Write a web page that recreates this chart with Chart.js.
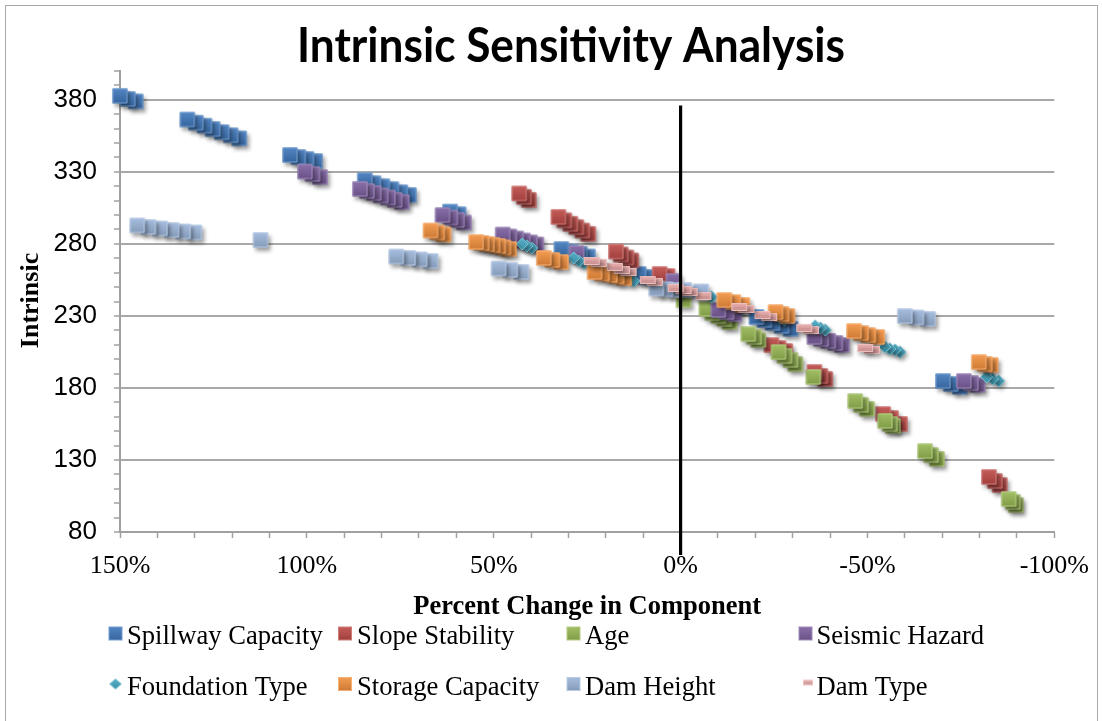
<!DOCTYPE html>
<html>
<head>
<meta charset="utf-8">
<script src="https://cdn.jsdelivr.net/npm/chart.js@4.4.1/dist/chart.umd.min.js"></script>
<style>
html,body{margin:0;padding:0;background:#fff;}
#wrap{position:relative;width:1102px;height:721px;}
</style>
</head>
<body>
<div id="wrap"><canvas id="c" width="1102" height="721"></canvas></div>
<script>
// ---------------- DATA ----------------
const chartTitle = 'Intrinsic Sensitivity Analysis';
const xAxisTitle = 'Percent Change in Component';
const yAxisTitle = 'Intrinsic';
const seriesNames = ['Spillway Capacity','Slope Stability','Age','Seismic Hazard','Foundation Type','Storage Capacity','Dam Height','Dam Type'];
const xTickValues = [150, 100, 50, 0, -50, -100];
const yTickValues = [80, 130, 180, 230, 280, 330, 380];

const spillwayX = [150, 147.9, 145.8, 132.0, 129.7, 127.4, 125.2, 122.8, 120.4, 118.1, 104.5, 102.3, 100.1, 97.8, 84.5, 82.2, 79.8, 77.4, 75.0, 72.7, 61.7, 59.4, 31.9, 29.4, 27.0, 24.8, 11.2, 9.3, -20.3, -22.4, -24.6, -27.0, -29.4, -70.2, -72.3, -74.7];
const spillwayY = [382.7, 380.6, 378.9, 366.3, 364.1, 362.0, 359.7, 357.5, 355.4, 353.2, 341.7, 340.3, 338.9, 337.5, 324.3, 322.1, 320.0, 318.0, 315.8, 313.9, 302.4, 300.6, 276.4, 274.7, 273.0, 271.2, 259.1, 257.0, 229.2, 227.2, 225.1, 223.0, 221.0, 184.8, 182.7, 180.7];

const slopeX = [43.2, 41.9, 40.6, 32.7, 31.1, 29.5, 27.9, 26.3, 24.7, 17.3, 16.0, 14.5, 13.2, 5.6, 3.5, -24.3, -26.2, -28.0, -35.8, -37.4, -38.7, -54.2, -56.3, -58.7, -82.5, -84.1, -85.4];
const slopeY = [315.0, 312.6, 310.5, 298.7, 296.3, 293.9, 291.6, 289.2, 286.9, 274.7, 272.6, 270.5, 268.5, 259.1, 257.7, 209.8, 207.7, 205.6, 191.1, 188.3, 186.2, 161.9, 159.1, 155.0, 118.2, 115.4, 112.6];

const ageX = [-0.8, -6.9, -8.5, -10.1, -11.7, -13.1, -18.1, -19.7, -20.8, -26.2, -27.8, -29.4, -30.7, -35.5, -46.7, -48.3, -49.9, -54.7, -56.0, -56.8, -65.4, -67.0, -68.6, -87.8, -88.9, -89.7];
const ageY = [241.0, 234.8, 232.0, 229.9, 227.9, 225.8, 217.4, 215.4, 213.3, 204.9, 202.2, 199.4, 196.6, 187.6, 170.9, 168.2, 165.4, 157.1, 155.0, 153.6, 136.2, 133.4, 130.7, 102.9, 100.8, 98.7];

const seismicX = [100.5, 98.5, 96.5, 85.8, 83.9, 82.1, 80.2, 78.3, 76.5, 74.6, 63.7, 61.6, 59.8, 58.0, 47.6, 45.8, 44.0, 42.2, 40.3, 38.6, 27.8, 1.9, -10.1, -12.3, -14.4, -35.8, -37.6, -39.5, -41.4, -43.2, -75.8, -77.7, -79.5];
const seismicY = [330.2, 328.5, 326.4, 318.1, 316.7, 315.3, 313.6, 312.2, 310.5, 309.0, 300.0, 298.3, 296.6, 294.8, 286.5, 285.1, 283.7, 282.3, 281.0, 279.6, 273.7, 254.2, 234.1, 232.7, 231.3, 215.4, 214.0, 212.6, 211.2, 209.8, 184.8, 183.4, 182.0];

const foundationX = [42.4, 41.1, 39.8, 28.6, 27.2, 25.9, 12.5, -8.3, -26.7, -27.8, -36.0, -37.4, -38.7, -54.7, -56.0, -57.4, -58.7, -81.9, -83.5, -85.1];
const foundationY = [279.9, 278.5, 277.1, 270.2, 268.1, 266.7, 254.2, 243.1, 228.5, 227.1, 223.0, 221.6, 220.2, 208.4, 207.0, 206.3, 204.9, 187.6, 186.2, 184.8];

const storageX = [66.9, 65.1, 63.4, 54.7, 53.2, 51.8, 50.3, 48.8, 47.4, 45.9, 36.6, 34.3, 32.0, 23.0, 21.0, 18.9, 17.1, 15.1, -11.7, -14.1, -16.5, -25.4, -27.0, -28.6, -46.4, -48.3, -50.2, -52.6, -79.8, -81.4, -83.0];
const storageY = [289.3, 287.9, 286.5, 281.3, 280.6, 279.9, 279.2, 278.5, 277.5, 276.4, 270.2, 268.8, 267.4, 260.5, 259.4, 258.4, 257.4, 256.3, 241.0, 239.6, 237.6, 232.7, 231.3, 229.9, 219.5, 218.1, 216.7, 215.4, 198.0, 196.6, 195.9];

const heightX = [145.4, 142.4, 139.3, 136.2, 133.1, 130.1, 112.4, 76.1, 72.9, 69.8, 66.9, 48.7, 45.6, 42.6, 6.5, 4.0, 1.5, -1.0, -5.5, -60.0, -63.1, -66.2];
const heightY = [292.8, 291.7, 290.7, 289.6, 288.6, 287.9, 282.7, 271.2, 270.2, 269.2, 268.1, 262.9, 261.9, 260.5, 249.0, 248.5, 248.0, 248.0, 247.0, 229.9, 228.9, 227.9];

const typeX = [23.8, 21.9, 17.6, 15.7, 13.9, 8.8, 6.9, 1.3, -0.8, -2.4, -6.1, -15.7, -17.6, -21.9, -23.7, -33.1, -34.9, -49.4, -51.2];
const typeY = [268.1, 266.7, 264.0, 261.9, 260.5, 254.9, 253.6, 249.4, 248.0, 246.6, 243.8, 236.2, 234.8, 230.6, 229.2, 221.6, 220.2, 207.7, 206.3];

const zeroLineX = [0, 0];
const zeroLineY = [376, 64];

// ---------------- STYLE ----------------
const seriesColors = ['#4078BC','#BE4B48','#98B954','#7D60A0','#46AAC4','#F4913F','#9DB7DB','#E9A8A7'];
const seriesShapes = ['rect','rect','rect','rect','diamond','rect','rect','dash'];
const seriesX = [spillwayX, slopeX, ageX, seismicX, foundationX, storageX, heightX, typeX];
const seriesY = [spillwayY, slopeY, ageY, seismicY, foundationY, storageY, heightY, typeY];

function shade(hex, amt){
  const n = parseInt(hex.slice(1),16);
  const r = n>>16, g = (n>>8)&255, b = n&255;
  const f = c => Math.round(amt < 0 ? c*(1+amt) : c + (255-c)*amt);
  return 'rgb(' + f(r) + ',' + f(g) + ',' + f(b) + ')';
}
function shapePath(c, shape, cx, cy, w, h){
  c.beginPath();
  if (shape === 'diamond'){
    c.moveTo(cx, cy-h/2); c.lineTo(cx+w/2, cy); c.lineTo(cx, cy+h/2); c.lineTo(cx-w/2, cy); c.closePath();
  } else {
    c.rect(cx-w/2, cy-h/2, w, h);
  }
}
function makeMarker(shape, color, shadow, w, h){
  const S = 30;
  const cv = document.createElement('canvas');
  cv.width = S; cv.height = S;
  const c = cv.getContext('2d');
  const cx = S/2, cy = S/2;
  c.save();
  if (shadow){
    c.shadowColor = 'rgba(0,0,0,0.38)';
    c.shadowBlur = 4; c.shadowOffsetX = 2; c.shadowOffsetY = 3;
  }
  shapePath(c, shape, cx, cy, w, h);
  const g = c.createLinearGradient(0, cy-h/2, 0, cy+h/2);
  g.addColorStop(0, shade(color, 0.10));
  g.addColorStop(1, shade(color, -0.16));
  c.fillStyle = g; c.fill();
  c.restore();
  shapePath(c, shape, cx, cy, w-1, h-1);
  c.strokeStyle = shade(color, 0.28); c.lineWidth = 1; c.stroke();
  if (shape === 'dash'){
    c.beginPath(); c.moveTo(cx-w/2+3, cy+0.5); c.lineTo(cx+w/2-3, cy+0.5);
    c.strokeStyle = shade(color, -0.12); c.lineWidth = 1; c.stroke();
  }
  return cv;
}
function markerSize(shape){
  if (shape === 'diamond') return [13, 13];
  if (shape === 'dash') return [16, 8];
  return [15, 15];
}

const datasets = seriesNames.map((name, i) => {
  const [w, h] = markerSize(seriesShapes[i]);
  const img = makeMarker(seriesShapes[i], seriesColors[i], true, w, h);
  return {
    label: name,
    data: seriesX[i].map((x, k) => ({x: x, y: seriesY[i][k]})).reverse(),
    pointStyle: img,
    pointRadius: 8,
    pointHoverRadius: 8,
    showLine: false,
    clip: false,
    order: 10 - i
  };
});
datasets.push({
  label: 'zero',
  data: zeroLineX.map((x, k) => ({x: x, y: zeroLineY[k]})),
  showLine: true,
  borderColor: '#000',
  borderWidth: 3.2,
  pointRadius: 0,
  clip: false,
  order: 0
});

const decor = {
  id: 'decor',
  afterDraw(chart){
    const ctx = chart.ctx;
    ctx.save();
    ctx.strokeStyle = '#A8A8A8'; ctx.lineWidth = 1;
    ctx.strokeRect(5.5, 5.5, 1092, 740);
    ctx.fillStyle = '#000';
    ctx.font = 'bold 47px Lato';
    ctx.textAlign = 'center'; ctx.textBaseline = 'alphabetic';
    const tw = ctx.measureText(chartTitle).width;
    const sx = Math.min(1.1, 548 / tw);
    ctx.save(); ctx.translate(571, 62); ctx.scale(sx, 1); ctx.fillText(chartTitle, 0, 0); ctx.restore();
    const ca = chart.chartArea;
    ctx.font = 'bold 26.5px "Liberation Serif"';
    ctx.fillText(xAxisTitle, (ca.left + ca.right) / 2, 614);
    ctx.save(); ctx.translate(38, 300.5); ctx.rotate(-Math.PI/2);
    ctx.font = 'bold 26px "Liberation Serif"';
    ctx.fillText(yAxisTitle, 0, 0); ctx.restore();
    const colMarker = [115.5, 345, 573.5, 805.5];
    const colText = [127, 357, 585, 816.5];
    const rowBase = [644, 695];
    const rowMark = [633.5, 684];
    ctx.font = '26.6px "Liberation Serif"';
    ctx.textAlign = 'left';
    seriesNames.forEach((name, i) => {
      const col = i % 4, row = Math.floor(i / 4);
      const shape = seriesShapes[i];
      let w = 14, h = 14;
      if (shape === 'diamond'){ w = 12; h = 11; }
      if (shape === 'dash'){ w = 10; h = 5; }
      const img = makeMarker(shape, seriesColors[i], false, w, h);
      let my = rowMark[row];
      if (shape === 'dash') my = 682.5;
      let mx = colMarker[col];
      if (shape === 'dash') mx = 808;
      ctx.drawImage(img, mx - img.width/2, my - img.height/2);
      ctx.fillStyle = '#000';
      ctx.fillText(name, colText[col], rowBase[row]);
    });
    ctx.restore();
  }
};

new Chart(document.getElementById('c'), {
  type: 'scatter',
  data: { datasets: datasets },
  plugins: [decor],
  options: {
    responsive: false,
    animation: false,
    devicePixelRatio: 1,
    layout: { autoPadding: false, padding: { left: 0, top: 71, right: 46, bottom: 129 } },
    plugins: { legend: { display: false }, title: { display: false }, tooltip: { enabled: false } },
    events: [],
    scales: {
      x: {
        type: 'linear', min: -100, max: 150, reverse: true,
        afterFit(s){ s.height = 60; },
        ticks: {
          stepSize: 10, autoSkip: false, maxRotation: 0, minRotation: 0, padding: 13, color: '#000',
          font: { family: '"Liberation Serif"', size: 26 },
          callback: v => xTickValues.includes(v) ? v + '%' : ''
        },
        grid: { drawOnChartArea: false, color: '#A0A0A0', tickColor: '#A0A0A0', tickLength: 6, tickWidth: 1.5 },
        border: { color: '#A0A0A0', width: 2 }
      },
      y: {
        type: 'linear', min: 80, max: 400,
        afterFit(s){ s.width = 120; },
        ticks: {
          stepSize: 10, autoSkip: false, padding: 17, color: '#000',
          font: { family: '"Liberation Sans"', size: 26 },
          callback: v => yTickValues.includes(v) ? String(v) : ''
        },
        grid: {
          color: c => (c.tick && yTickValues.includes(c.tick.value) && c.tick.value !== 80) ? '#A8A8A8' : 'rgba(0,0,0,0)',
          lineWidth: 2, tickColor: '#A0A0A0', tickLength: 6, tickWidth: 1.5
        },
        border: { color: '#A0A0A0', width: 2 }
      }
    }
  }
});
</script>
</body>
</html>
